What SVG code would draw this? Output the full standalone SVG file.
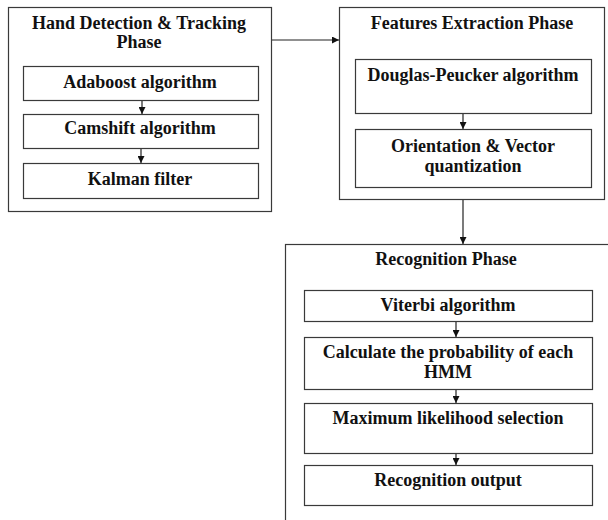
<svg xmlns="http://www.w3.org/2000/svg" width="608" height="520" viewBox="0 0 608 520">
  <style>
    .box { fill: #ffffff; stroke: #3a3a3a; stroke-width: 1.2; }
    .t { font-family: "Liberation Serif", "Times New Roman", serif; font-weight: bold; font-size: 18px; fill: #111; text-anchor: middle; }
    .edge { stroke: #222; stroke-width: 1.2; fill: none; }
  </style>
  <defs>
    <marker id="arrow" viewBox="0 0 10 10" refX="10" refY="5" markerWidth="7" markerHeight="7" markerUnits="userSpaceOnUse" orient="auto">
      <path d="M0,0 L10,5 L0,10 z" fill="#111"/>
    </marker>
  </defs>
  <rect width="608" height="520" fill="#ffffff"/>

  <!-- Phase 1 -->
  <g id="hand-tracking">
    <rect class="box" x="8.5" y="7.5" width="263" height="204"/>
    <text class="t" x="139" y="29">Hand Detection &amp; Tracking</text>
    <text class="t" x="139" y="48">Phase</text>
  </g>
  <g id="adaboost">
    <rect class="box" x="23.5" y="66.5" width="235" height="34"/>
    <text class="t" x="140" y="88">Adaboost algorithm</text>
  </g>
  <g id="camshift">
    <rect class="box" x="23.5" y="114.5" width="235" height="34"/>
    <text class="t" x="140" y="134">Camshift algorithm</text>
  </g>
  <g id="kalman">
    <rect class="box" x="23.5" y="163.5" width="235" height="35"/>
    <text class="t" x="140" y="185">Kalman filter</text>
  </g>

  <!-- Phase 2 -->
  <g id="features">
    <rect class="box" x="339.5" y="7.5" width="265" height="192"/>
    <text class="t" x="472" y="29">Features Extraction Phase</text>
  </g>
  <g id="douglas">
    <rect class="box" x="355.5" y="59.5" width="236" height="54"/>
    <text class="t" x="473" y="81">Douglas-Peucker algorithm</text>
  </g>
  <g id="orientation">
    <rect class="box" x="355.5" y="129.5" width="236" height="58"/>
    <text class="t" x="473" y="152">Orientation &amp; Vector</text>
    <text class="t" x="473" y="172">quantization</text>
  </g>

  <!-- Phase 3 -->
  <g id="recognition">
    <rect class="box" x="285.5" y="244.5" width="340" height="300"/>
    <text class="t" x="446" y="265">Recognition Phase</text>
  </g>
  <g id="viterbi">
    <rect class="box" x="304.5" y="290.5" width="288" height="31"/>
    <text class="t" x="448" y="311">Viterbi algorithm</text>
  </g>
  <g id="probability">
    <rect class="box" x="304.5" y="337.5" width="288" height="52"/>
    <text class="t" x="448" y="358">Calculate the probability of each</text>
    <text class="t" x="448" y="378">HMM</text>
  </g>
  <g id="max-likelihood">
    <rect class="box" x="304.5" y="403.5" width="288" height="50"/>
    <text class="t" x="448" y="424">Maximum likelihood selection</text>
  </g>
  <g id="output">
    <rect class="box" x="304.5" y="465.5" width="288" height="40"/>
    <text class="t" x="448" y="486">Recognition output</text>
  </g>

  <g id="connectors">
    <line class="edge" x1="142" y1="101" x2="142" y2="114" marker-end="url(#arrow)"/>
    <line class="edge" x1="141" y1="149" x2="141" y2="163" marker-end="url(#arrow)"/>
    <line class="edge" x1="272" y1="40" x2="339" y2="40" marker-end="url(#arrow)"/>
    <line class="edge" x1="463" y1="114" x2="463" y2="129" marker-end="url(#arrow)"/>
    <line class="edge" x1="463" y1="200" x2="463" y2="244" marker-end="url(#arrow)"/>
    <line class="edge" x1="456" y1="322" x2="456" y2="337" marker-end="url(#arrow)"/>
    <line class="edge" x1="456" y1="390" x2="456" y2="403" marker-end="url(#arrow)"/>
    <line class="edge" x1="456" y1="454" x2="456" y2="465" marker-end="url(#arrow)"/>
  </g>
</svg>
